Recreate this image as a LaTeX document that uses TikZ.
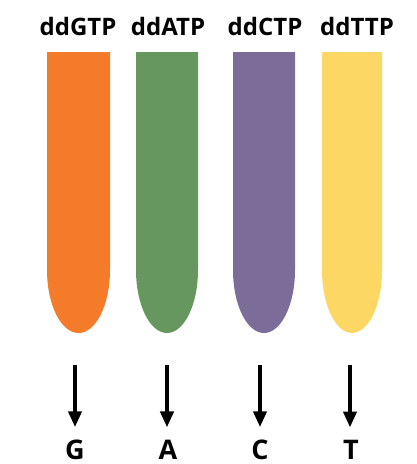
\documentclass[tikz,border=0pt]{standalone}
\usepackage{fontspec}
\setmainfont{Open Sans}
\usetikzlibrary{arrows.meta,positioning}
\definecolor{gorange}{HTML}{F47B2A}
\definecolor{agreen}{HTML}{65975F}
\definecolor{cpurple}{HTML}{7C6C9A}
\definecolor{tyellow}{HTML}{FDD764}

\begin{document}
\begin{tikzpicture}[
  x=1pt,y=-1pt,
  label/.style={font=\bfseries\fontsize{24}{24}\selectfont,inner sep=0pt,anchor=base},
  base/.style={font=\bfseries\fontsize{27}{27}\selectfont,inner sep=0pt,anchor=base},
  down/.style={line width=4pt,-{Triangle[width=13pt,length=16pt]},shorten >=12pt}
]
  \useasboundingbox (0,0) rectangle (416,464);
  % tubes
  \fill[gorange] (47,52) -- (47,270) arc[start angle=180,end angle=360,x radius=31.5,y radius=-63] -- (110,52) -- cycle;
  \fill[agreen] (136,52) -- (136,270) arc[start angle=180,end angle=360,x radius=31,y radius=-63] -- (198,52) -- cycle;
  \fill[cpurple] (233,52) -- (233,270) arc[start angle=180,end angle=360,x radius=31,y radius=-63] -- (295,52) -- cycle;
  \fill[tyellow] (322,52) -- (322,270) arc[start angle=180,end angle=360,x radius=30,y radius=-63] -- (382,52) -- cycle;
  % labels
  \node[label] (ddg) at (78,35) {ddGTP};
  \node[label] (dda) at (168,35) {ddATP};
  \node[label] (ddc) at (265,35) {ddCTP};
  \node[label] (ddt) at (357,35) {ddTTP};
  \node[base] (g) at (75,459) {G};
  \node[base] (a) at (168,459) {A};
  \node[base] (c) at (260,459) {C};
  \node[base] (t) at (351,459) {T};
  \coordinate (gs) at (75,365);
  \coordinate (as) at (167,365);
  \coordinate (cs) at (260,365);
  \coordinate (ts) at (350,365);
  \draw[down] (gs) -- (gs |- g.north);
  \draw[down] (as) -- (as |- a.north);
  \draw[down] (cs) -- (cs |- c.north);
  \draw[down] (ts) -- (ts |- t.north);
\end{tikzpicture}
\end{document}
